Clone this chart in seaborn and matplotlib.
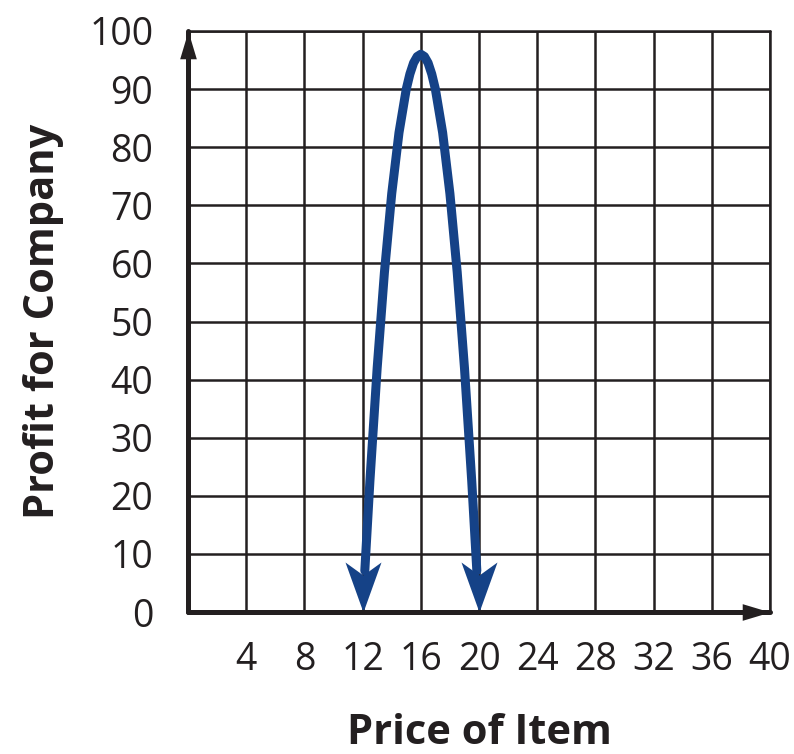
import numpy as np
import pandas as pd
import seaborn as sns
import matplotlib
matplotlib.use("Agg")
import matplotlib.pyplot as plt

# 数据：抛物线点（两端箭头尖端单独列出）
price = [12.15, 12.5, 13, 13.5, 14, 14.5, 15, 15.25, 15.5, 15.75, 16,
         16.25, 16.5, 16.75, 17, 17.5, 18, 18.5, 19, 19.5, 19.85]
profit = [7.1, 22.5, 42, 58.5, 72, 82.5, 90, 92.6, 94.5, 95.6, 96,
          95.6, 94.5, 92.6, 90, 82.5, 72, 58.5, 42, 22.5, 7.1]
tip_price = [12, 20]
tip_profit = [0, 0]
x_ticks = [4, 8, 12, 16, 20, 24, 28, 32, 36, 40]
y_ticks = [0, 10, 20, 30, 40, 50, 60, 70, 80, 90, 100]

df = pd.DataFrame({"price": price, "profit": profit})
tips = pd.DataFrame({"price": tip_price, "profit": tip_profit})

sns.set_style("white")
plt.rcParams['font.family'] = ['Open Sans', 'DejaVu Sans']

ink = "#231f20"
curve_color = "#154287"

fig = plt.figure(figsize=(7.94, 7.54), dpi=100)
ax = fig.add_axes([0.2368, 0.1883, 0.733, 0.7706])

# 网格
ax.set_xlim(0, 40)
ax.set_ylim(0, 100)
ax.set_xticks(x_ticks)
ax.set_yticks(y_ticks)
ax.grid(True, color=ink, linewidth=1.8)
ax.set_axisbelow(True)
for s in ax.spines.values():
    s.set_visible(False)
ax.axhline(100, color=ink, linewidth=1.8, clip_on=False)
ax.axvline(40, color=ink, linewidth=1.8, clip_on=False)

# 坐标轴（粗线 + 箭头）
ax.axhline(0, color=ink, linewidth=3.6, clip_on=False, zorder=6)
ax.axvline(0, color=ink, linewidth=3.6, clip_on=False, zorder=6)
arrow_right = [(0, 0), (-1, 0.3), (-1, -0.3), (0, 0)]
arrow_up = [(0, 0), (0.3, -1), (-0.3, -1), (0, 0)]
ax.plot([1], [0], transform=ax.transAxes, marker=arrow_right, ms=40,
        color=ink, mew=0, ls="none", clip_on=False, zorder=7)
ax.plot([0], [1], transform=ax.transAxes, marker=arrow_up, ms=40,
        color=ink, mew=0, ls="none", clip_on=False, zorder=7)

# 抛物线
sns.lineplot(data=df, x="price", y="profit", ax=ax, color=curve_color,
             linewidth=6.5, sort=False, zorder=4,
             solid_joinstyle="round")

# 两端的燕尾箭头
stealth_down = [(0, 0), (0.36, 1.0), (0, 0.74), (-0.36, 1.0), (0, 0)]
sns.scatterplot(data=tips, x="price", y="profit", ax=ax, marker=stealth_down,
                s=72 ** 2, color=curve_color, linewidth=0, zorder=5,
                clip_on=False)

ax.tick_params(axis="x", length=0, labelsize=27, colors=ink, pad=21)
ax.tick_params(axis="y", length=0, labelsize=27, colors=ink, pad=25)
ax.set_xticklabels([str(t) for t in x_ticks])
ax.set_yticklabels([str(t) for t in y_ticks])

ax.set_xlabel("Price of Item", fontsize=30, fontweight="bold",
              color=ink, labelpad=24)
ax.set_ylabel("Profit for Company", fontsize=30, fontweight="bold",
              color=ink, labelpad=18)

fig.savefig("out.png", dpi=100, facecolor="white")
